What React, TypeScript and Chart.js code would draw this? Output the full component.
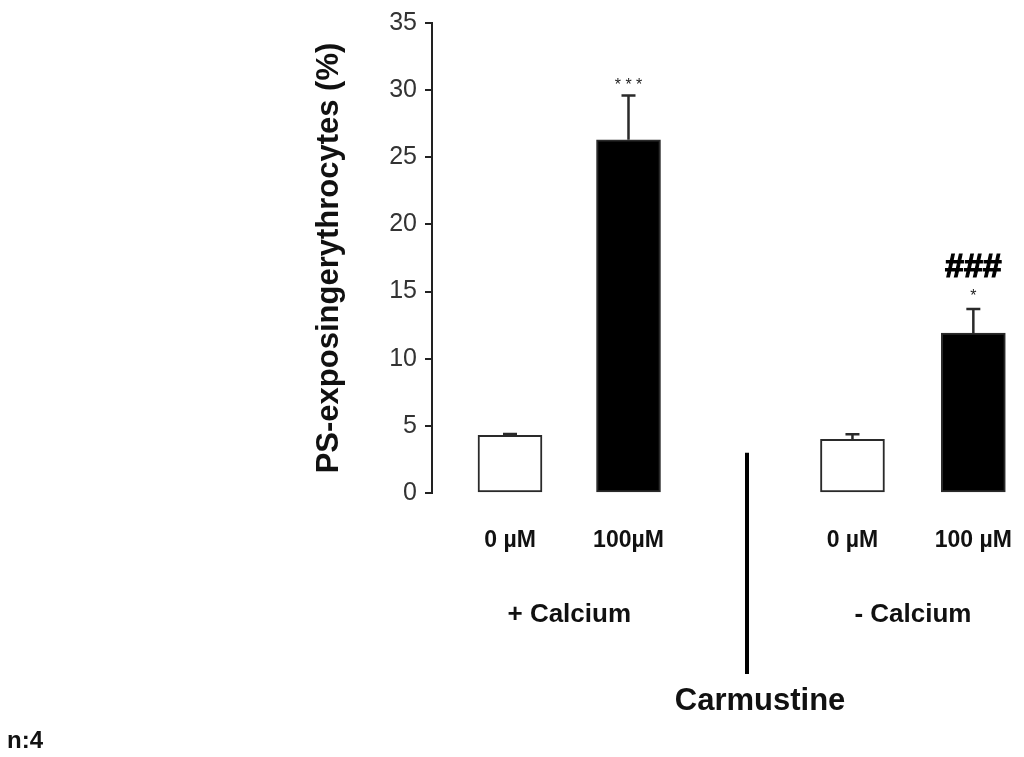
import React, { useEffect, useRef } from 'react';
import { Chart, registerables } from 'chart.js';

Chart.register(...registerables);

// ---- data ----
const categories = ['0 µM', '100µM', '0 µM', '100 µM'];
const xPositions = [1, 2, 3.89, 4.91];
const values = [4.3, 26.3, 4.0, 11.9];
const errors = [0.1, 3.3, 0.37, 1.8];
const barColors = ['#ffffff', '#000000', '#ffffff', '#000000'];
const starMarks = ['', '* * *', '', '*'];
const hashMarks = ['', '', '', '###'];
const groupLabels = ['+ Calcium', '- Calcium'];
const groupPositions = [1.5, 4.4];
const dividerPosition = 3.0;
const dividerTopValue = 3.0;
const treatmentLabel = 'Carmustine';
const treatmentPosition = 3.11;
const sampleNote = 'n:4';
const yTitle = 'PS-exposingerythrocytes (%)';
const yMin = 0;
const yMax = 35;
const yStep = 5;

const FONT = "'Liberation Sans', Arial, Helvetica, sans-serif";

const overlay = {
  id: 'overlay',
  afterDatasetsDraw(chart: any) {
    const { ctx, chartArea, scales } = chart;
    const x = scales.x;
    const y = scales.y;
    const meta = chart.getDatasetMeta(0);
    ctx.save();
    meta.data.forEach((bar: any, i: number) => {
      const cx = bar.x;
      const top = y.getPixelForValue(values[i]);
      const errTop = y.getPixelForValue(values[i] + errors[i]);
      ctx.strokeStyle = '#2a2a2a';
      ctx.lineWidth = 2.5;
      ctx.beginPath();
      ctx.moveTo(cx, top);
      ctx.lineTo(cx, errTop);
      ctx.moveTo(cx - 7, errTop);
      ctx.lineTo(cx + 7, errTop);
      ctx.stroke();

      ctx.fillStyle = '#222';
      ctx.textAlign = 'center';
      ctx.textBaseline = 'alphabetic';
      if (starMarks[i]) {
        ctx.font = `16px ${FONT}`;
        const off = starMarks[i].length > 1 ? 6 : 8;
        ctx.fillText(starMarks[i], cx, errTop - off);
      }
      if (hashMarks[i]) {
        ctx.font = `bold 34px ${FONT}`;
        ctx.fillStyle = '#000';
        ctx.strokeStyle = '#000';
        ctx.lineWidth = 1.2;
        ctx.fillText(hashMarks[i], cx, errTop - 32);
        ctx.strokeText(hashMarks[i], cx, errTop - 32);
      }
    });

    // category labels
    ctx.fillStyle = '#111';
    ctx.textAlign = 'center';
    ctx.textBaseline = 'middle';
    ctx.font = `bold 23px ${FONT}`;
    categories.forEach((lab, i) => {
      ctx.fillText(lab, x.getPixelForValue(xPositions[i]), chartArea.bottom + 48);
    });

    // group labels
    ctx.font = `bold 26px ${FONT}`;
    groupLabels.forEach((lab, i) => {
      ctx.fillText(lab, x.getPixelForValue(groupPositions[i]), chartArea.bottom + 122);
    });

    // divider
    const dx = x.getPixelForValue(dividerPosition);
    ctx.strokeStyle = '#000';
    ctx.lineWidth = 4;
    ctx.beginPath();
    ctx.moveTo(dx, y.getPixelForValue(dividerTopValue));
    ctx.lineTo(dx, chartArea.bottom + 181);
    ctx.stroke();

    // treatment label
    ctx.font = `bold 31px ${FONT}`;
    ctx.fillText(treatmentLabel, x.getPixelForValue(treatmentPosition), chartArea.bottom + 208);

    // sample note
    ctx.textAlign = 'left';
    ctx.font = `bold 24px ${FONT}`;
    ctx.fillText(sampleNote, 7, 741);
    ctx.restore();
  },
};

export default function App() {
  const ref = useRef<HTMLCanvasElement | null>(null);
  useEffect(() => {
    if (!ref.current) return;
    const chart = new Chart(ref.current, {
      type: 'bar',
      data: {
        datasets: [
          {
            data: xPositions.map((xv, i) => ({ x: xv, y: values[i] })),
            backgroundColor: barColors,
            borderColor: '#2a2a2a',
            borderWidth: 2,
            borderSkipped: false,
            barThickness: 64,
          },
        ],
      },
      options: {
        animation: false,
        responsive: false,
        layout: { padding: { left: 300, right: 8, top: 17, bottom: 264 } },
        plugins: { legend: { display: false }, tooltip: { enabled: false } },
        scales: {
          x: {
            type: 'linear',
            display: false,
            min: 0.3418,
            max: 5.27,
            offset: false,
          },
          y: {
            type: 'linear',
            min: yMin,
            max: yMax,
            afterFit: (s: any) => {
              s.width = 132;
            },
            ticks: {
              stepSize: yStep,
              padding: 8,
              color: '#333',
              font: { family: FONT, size: 25 },
            },
            grid: {
              drawOnChartArea: false,
              drawTicks: true,
              tickLength: 7,
              color: '#222',
              lineWidth: 2,
            },
            border: { display: true, color: '#222', width: 2 },
            title: {
              display: true,
              text: yTitle,
              color: '#111',
              font: { family: FONT, size: 31, weight: 'bold' },
              padding: { top: 11, bottom: 0 },
            },
          },
        },
      },
      plugins: [overlay],
    } as any);
    return () => chart.destroy();
  }, []);
  return (
    <div style={{ position: 'absolute', left: 0, top: 0, width: 1024, height: 757, background: '#fff' }}>
      <canvas ref={ref} width={1024} height={757} style={{ display: 'block' }} />
    </div>
  );
}
